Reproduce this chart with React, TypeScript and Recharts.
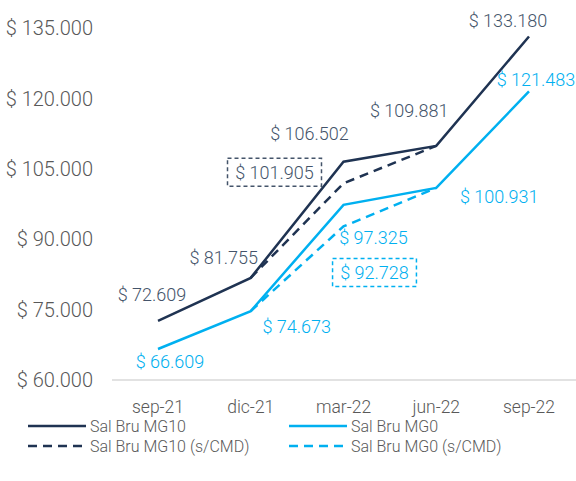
import { LineChart, Line, XAxis, YAxis, LabelList } from 'recharts';

const periods = ['sep-21', 'dic-21', 'mar-22', 'jun-22', 'sep-22'];
const mg10 = [72609, 81755, 106502, 109881, 133180];
const mg0 = [66609, 74673, 97325, 100931, 121483];
const mg10SinCmd = [null, 81755, 101905, 109881, null];
const mg0SinCmd = [null, 74673, 92728, 100931, null];
const yTicks = [60000, 75000, 90000, 105000, 120000, 135000];

const data = periods.map((p, i) => ({
  name: p,
  mg10: mg10[i],
  mg0: mg0[i],
  mg10s: mg10SinCmd[i],
  mg0s: mg0SinCmd[i],
}));

const NAVY = '#1f3352';
const NAVY_TEXT = '#44546a';
const BLUE = '#00b0f0';
const FONT = 'Roboto, sans-serif';

const fmt = (v: number) => '$ ' + v.toLocaleString('de-DE');

// label offsets from the point (dx, dy), per series
const offMg10 = [[-6, -26], [-27, -20], [-34, -28], [-27, -35], [-21, -16]];
const offMg0 = [[12, 13], [46, 15], [30, 33], [63, 9], [7, -12]];
const offMg10s = [null, null, [-69, -11], null, null];
const offMg0s = [null, null, [31, 46], null, null];

const textWidth = (s: string, size: number) => {
  let w = 0;
  for (const c of s) w += c === ' ' ? 0.25 : c === '.' ? 0.26 : 0.562;
  return w * size;
};

const makeLabel = (color: string, offs: any[], boxed: boolean) => (props: any) => {
  const { x, y, value, index } = props;
  const o = offs[index];
  if (value == null || !o) return null;
  const cx = x + o[0];
  const cy = y + o[1];
  const s = fmt(value);
  const w = textWidth(s, 18);
  return (
    <g>
      {boxed && (
        <rect
          x={cx - w / 2 - 7}
          y={cy - 14}
          width={w + 14}
          height={28}
          fill="none"
          stroke={color}
          strokeWidth={1.5}
          strokeDasharray="4 3"
        />
      )}
      <text
        x={cx}
        y={cy}
        dy="0.355em"
        textAnchor="middle"
        fill={color}
        fontSize={18}
        fontFamily={FONT}
        fontWeight={300}
      >
        {s}
      </text>
    </g>
  );
};

const legendItems = [
  { label: 'Sal Bru MG10', color: NAVY, dash: false },
  { label: 'Sal Bru MG0', color: BLUE, dash: false },
  { label: 'Sal Bru MG10 (s/CMD)', color: NAVY, dash: true },
  { label: 'Sal Bru MG0 (s/CMD)', color: BLUE, dash: true },
];

export default function App() {
  return (
    <div style={{ position: 'absolute', left: 0, top: 0, width: 576, height: 481, background: '#fff' }}>
      <LineChart
        width={576}
        height={481}
        data={data}
        margin={{ top: 28, right: 0, left: 0, bottom: 61 }}
      >
        <XAxis
          dataKey="name"
          padding={{ left: 46, right: 47 }}
          axisLine={{ stroke: '#d9d9d9', strokeWidth: 1.5 }}
          tickLine={false}
          tickSize={0}
          tickMargin={21}
          height={40}
          tick={{ fill: '#595959', fontSize: 17.5, fontFamily: FONT, fontWeight: 300 }}
        />
        <YAxis
          width={112}
          domain={[60000, 135000]}
          ticks={yTicks}
          axisLine={false}
          tickLine={false}
          tickSize={0}
          tickMargin={19}
          tickFormatter={fmt}
          tick={{ fill: '#595959', fontSize: 20, fontFamily: FONT, fontWeight: 300 }}
        />
        <Line dataKey="mg10s" stroke={NAVY} strokeWidth={2.5} strokeDasharray="9 6" dot={false} isAnimationActive={false}>
          <LabelList dataKey="mg10s" content={makeLabel(NAVY_TEXT, offMg10s, true)} />
        </Line>
        <Line dataKey="mg0s" stroke={BLUE} strokeWidth={2.5} strokeDasharray="9 6" dot={false} isAnimationActive={false}>
          <LabelList dataKey="mg0s" content={makeLabel(BLUE, offMg0s, true)} />
        </Line>
        <Line dataKey="mg10" stroke={NAVY} strokeWidth={2.5} dot={false} isAnimationActive={false}>
          <LabelList dataKey="mg10" content={makeLabel(NAVY_TEXT, offMg10, false)} />
        </Line>
        <Line dataKey="mg0" stroke={BLUE} strokeWidth={2.5} dot={false} isAnimationActive={false}>
          <LabelList dataKey="mg0" content={makeLabel(BLUE, offMg0, false)} />
        </Line>
      </LineChart>
      <div style={{ position: 'absolute', left: 28, top: 416, width: 548, display: 'flex', flexWrap: 'wrap', fontFamily: FONT, fontWeight: 300, fontSize: 16, color: '#595959' }}>
        {legendItems.map((it) => (
          <div key={it.label} style={{ width: 261, height: 20, display: 'flex', alignItems: 'center' }}>
            <svg width={60} height={6} style={{ marginRight: 2 }}>
              <line x1={0} y1={3} x2={58} y2={3} stroke={it.color} strokeWidth={2.5} strokeDasharray={it.dash ? '9 6' : undefined} />
            </svg>
            {it.label}
          </div>
        ))}
      </div>
    </div>
  );
}
